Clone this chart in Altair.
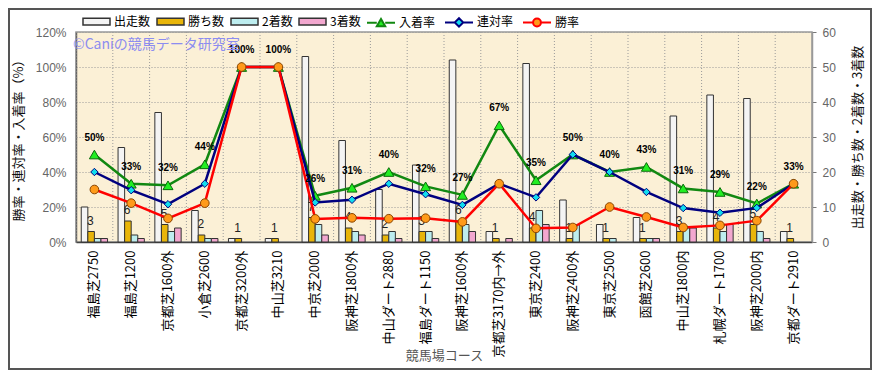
import altair as alt
import pandas as pd

courses = ["福島芝2750", "福島芝1200", "京都芝1600外", "小倉芝2600", "京都芝3200外",
           "中山芝3210", "中京芝2000", "阪神芝1800外", "中山ダート2880", "福島ダート1150",
           "阪神芝1600外", "京都芝3170内→外", "東京芝2400", "阪神芝2400外", "東京芝2500",
           "函館芝2600", "中山芝1800内", "札幌ダート1700", "阪神芝2000内", "京都ダート2910"]
starts = [10, 27, 37, 9, 1, 1, 53, 29, 15, 22, 52, 3, 51, 12, 5, 7, 36, 42, 41, 3]
wins = [3, 6, 5, 2, 1, 1, 7, 4, 2, 3, 6, 1, 4, 1, 1, 1, 3, 4, 5, 1]
seconds = [1, 2, 3, 1, 0, 0, 5, 3, 3, 3, 5, 0, 9, 5, 1, 1, 4, 3, 3, 0]
thirds = [1, 1, 4, 1, 0, 0, 2, 2, 1, 1, 3, 1, 5, 0, 0, 1, 4, 5, 1, 0]
win_rate = [30, 22.2, 13.5, 22.2, 100, 100, 13.2, 13.8, 13.3, 13.6, 11.5, 33.3, 7.8, 8.3, 20, 14.3, 8.3, 9.5, 12.2, 33.3]
rentai_rate = [40, 29.6, 21.6, 33.3, 100, 100, 22.6, 24.1, 33.3, 27.3, 21.2, 33.3, 25.5, 50, 40, 28.6, 19.4, 16.7, 19.5, 33.3]
place_rate = [50, 33.3, 32.4, 44.4, 100, 100, 26.4, 31.0, 40, 31.8, 26.9, 66.7, 35.3, 50, 40, 42.9, 30.6, 28.6, 22.0, 33.3]
place_labels = ["50%", "33%", "32%", "44%", "100%", "100%", "26%", "31%", "40%", "32%",
                "27%", "67%", "35%", "50%", "40%", "43%", "31%", "29%", "22%", "33%"]
win_labels = ["3", "6", "5", "2", "1", "1", "7", "4", "2", "3", "6", "1", "4", "1", "1", "1", "3", "4", "5", "1"]

bar_series = ["出走数", "勝ち数", "2着数", "3着数"]
bar_colors = ["#F4F4F4", "#E8B50A", "#BDEDEF", "#F2A7CF"]
line_series = ["入着率", "連対率", "勝率"]
line_colors = ["#118811", "#00007F", "#FF0000"]
marker_fills = ["#22EE22", "#11DDEE", "#FF9A1A"]
marker_strokes = ["#0A6A0A", "#00007F", "#884400"]
marker_shapes = ["triangle-up", "diamond", "circle"]
marker_sizes = [100, 55, 75]
legend_paths = [
    "M-1,0H-0.3M0.3,0H1M-0.3,0.24L0,-0.28L0.3,0.24Z",
    "M-1,0H-0.3M0.3,0H1M-0.3,0L0,-0.3L0.3,0L0,0.3Z",
    "M-1,0H-0.28M0.28,0H1M-0.28,0A0.28,0.28 0 1,1 0.28,0A0.28,0.28 0 1,1 -0.28,0Z",
]
watermark = "©Caniの競馬データ研究室"

bar_rows = []
for i, c in enumerate(courses):
    for s, vals in zip(bar_series, [starts, wins, seconds, thirds]):
        if vals[i] > 0:
            bar_rows.append({"course": c, "series": s, "value": vals[i]})
bars_df = pd.DataFrame(bar_rows)

line_rows = []
for s, vals in zip(line_series, [place_rate, rentai_rate, win_rate]):
    for c, v in zip(courses, vals):
        line_rows.append({"course": c, "series": s, "rate": v})
lines_df = pd.DataFrame(line_rows)

labels_df = pd.DataFrame({"course": courses, "rate": place_rate, "label": place_labels})
win_df = pd.DataFrame({"course": courses, "wins": wins, "label": win_labels})
course_df = pd.DataFrame({"course": courses})

W, H = 736, 210
JP = "Noto Sans CJK JP"
LAT = "Liberation Sans"

x_axis = alt.Axis(title="競馬場コース", labelAngle=270, labelAlign="right", labelBaseline="middle",
                  labelPadding=8, ticks=False, grid=False, labelFontSize=13, labelFont=JP,
                  labelColor="#000", labelLimit=0, domainColor="#444", domainWidth=1.5,
                  titleX=368, titleY=113, titleBaseline="middle", titleFontSize=13, titleFont=JP,
                  titleColor="#555", titleFontWeight="normal")
x_scale = alt.Scale(paddingInner=0, paddingOuter=0)
x_enc = alt.X("course:N", sort=courses, scale=x_scale, axis=x_axis)

left_axis = alt.Axis(orient="left", values=[0, 20, 40, 60, 80, 100, 120], labelExpr="datum.value + '%'",
                     grid=True, gridColor="#9a9a9a", gridDash=[1, 2], gridWidth=1, ticks=False,
                     labelPadding=10, labelFontSize=12, labelColor="#666", labelFont=LAT,
                     domainColor="#666", domainWidth=1.5,
                     title="勝率・連対率・入着率（%）", titleX=-58, titleY=105, titleAngle=270,
                     titleAlign="center", titleBaseline="middle", titleFontSize=13, titleFont=JP,
                     titleFontWeight="normal", titleColor="#111")
right_axis = alt.Axis(orient="right", values=[0, 10, 20, 30, 40, 50, 60], grid=False, ticks=True,
                      tickSize=4, tickColor="#777", labelPadding=6, labelFontSize=12, labelColor="#666",
                      labelFont=LAT, domainColor="#999", domainWidth=1.5,
                      title="出走数・勝ち数・2着数・3着数", titleX=45, titleY=105, titleAngle=270,
                      titleAlign="center", titleBaseline="middle", titleFontSize=13, titleFont=JP,
                      titleFontWeight="normal", titleColor="#111")
y_rate = alt.Y("rate:Q", scale=alt.Scale(domain=[0, 120], nice=False), axis=left_axis)

# vertical grid at category boundaries
grid = alt.Chart(course_df).mark_rule(color="#9a9a9a", strokeDash=[1, 2], strokeWidth=1).encode(
    x=alt.X("course:N", sort=courses, scale=x_scale, axis=x_axis, bandPosition=0)
)

bar_legend = alt.Legend(title=None, orient="none", legendX=6, legendY=-25, direction="horizontal",
                        symbolType="M-1,-0.25H1V0.25H-1Z", symbolSize=729, symbolStrokeColor="#333",
                        symbolStrokeWidth=1.5, labelFont=JP, labelFontSize=12, labelColor="#000",
                        labelOffset=3, columnPadding=3)
bars = alt.Chart(bars_df).mark_bar(stroke="#333", strokeWidth=1, opacity=1).encode(
    x=x_enc,
    xOffset=alt.XOffset("series:N", sort=bar_series,
                        scale=alt.Scale(domain=bar_series, paddingInner=0, paddingOuter=0.8)),
    y=alt.Y("value:Q", scale=alt.Scale(domain=[0, 60], nice=False), axis=right_axis),
    color=alt.Color("series:N", sort=bar_series, scale=alt.Scale(domain=bar_series, range=bar_colors),
                    legend=bar_legend),
)
win_text = alt.Chart(win_df).mark_text(dx=-4, dy=-11, fontSize=12, font=LAT, color="#222").encode(
    x=x_enc,
    y=alt.Y("wins:Q", scale=alt.Scale(domain=[0, 60], nice=False), axis=right_axis),
    text="label:N",
)
count_group = alt.layer(bars, win_text)

line_legend = alt.Legend(title=None, orient="none", legendX=290, legendY=-25, direction="horizontal",
                         symbolSize=784, symbolStrokeWidth=2, labelFont=JP, labelFontSize=12,
                         labelColor="#000", labelOffset=3, columnPadding=5)
legend_layer = alt.Chart(lines_df).transform_filter("false").mark_point(
    filled=True, size=784, strokeWidth=2, opacity=1).encode(
    x=x_enc, y=y_rate,
    shape=alt.Shape("series:N", sort=line_series, scale=alt.Scale(domain=line_series, range=legend_paths),
                    legend=line_legend),
    fill=alt.Fill("series:N", sort=line_series, scale=alt.Scale(domain=line_series, range=marker_fills),
                  legend=line_legend),
    stroke=alt.Stroke("series:N", sort=line_series, scale=alt.Scale(domain=line_series, range=line_colors),
                      legend=line_legend),
)

rate_layers = [legend_layer]
for s, col, fc, sc, shp, sz in zip(line_series, line_colors, marker_fills, marker_strokes,
                                   marker_shapes, marker_sizes):
    base = alt.Chart(lines_df).transform_filter(alt.datum.series == s)
    rate_layers.append(base.mark_line(color=col, strokeWidth=2.5).encode(x=x_enc, y=y_rate))
    rate_layers.append(base.mark_point(shape=shp, filled=True, fill=fc, stroke=sc, strokeWidth=1,
                                       size=sz, opacity=1).encode(x=x_enc, y=y_rate))
rate_layers.append(
    alt.Chart(labels_df).mark_text(dy=-17, fontSize=10, fontWeight="bold", font=LAT, color="#000").encode(
        x=x_enc, y=y_rate, text="label:N")
)
rate_layers.append(
    alt.Chart(pd.DataFrame({"t": [watermark]})).mark_text(
        align="left", baseline="middle", fontSize=14, font=JP, color="#8C8CF0").encode(
        x=alt.value(-3), y=alt.value(13), text="t:N")
)
rate_layers.append(
    alt.Chart(pd.DataFrame({"t": [0]})).mark_rect(fill="transparent", stroke="#555", strokeWidth=2).encode(
        x=alt.value(-67), x2=alt.value(795), y=alt.value(-23), y2=alt.value(337))
)
rate_group = alt.layer(*rate_layers)

chart = alt.layer(grid, count_group, rate_group).resolve_scale(y="independent").properties(
    width=W, height=H,
    autosize=alt.AutoSizeParams(type="none"),
    padding={"left": 68, "top": 24, "right": 61, "bottom": 128},
    background="#FFFFFF",
).configure_view(fill="#FBF0D6", stroke="#999", strokeWidth=1.5)

chart.save("out.html", embed_options={"renderer": "svg", "actions": False})
